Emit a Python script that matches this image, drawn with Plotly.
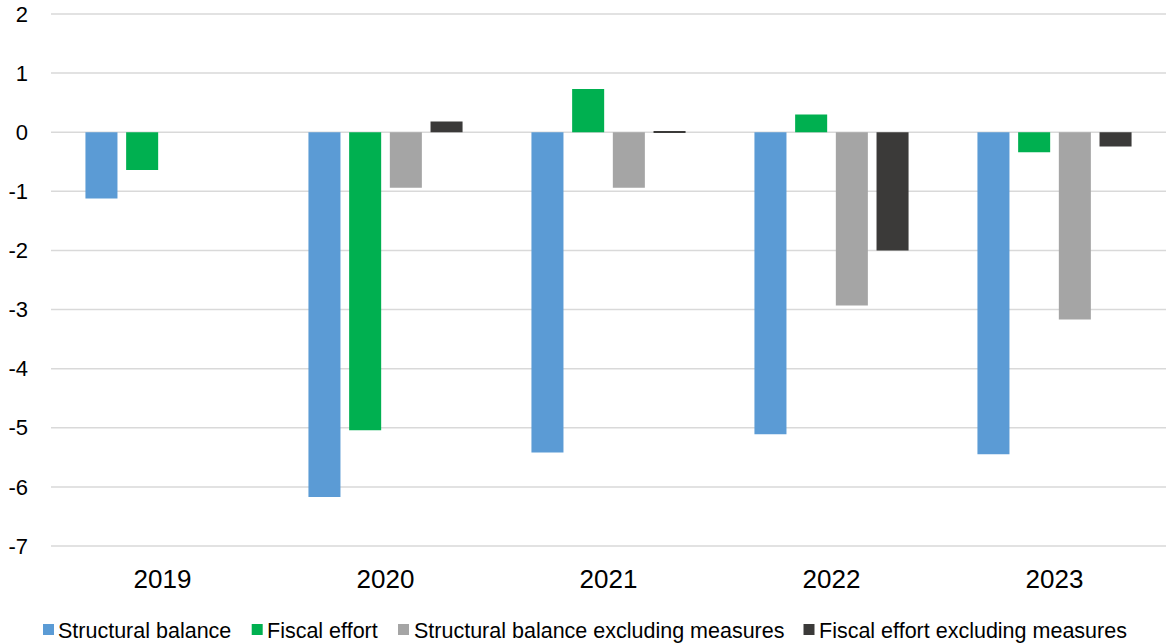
import plotly.graph_objects as go

years = ["2019", "2020", "2021", "2022", "2023"]
structural_balance = [-1.12, -6.17, -5.42, -5.11, -5.45]
fiscal_effort = [-0.64, -5.04, 0.73, 0.30, -0.34]
sb_excl_measures = [None, -0.94, -0.94, -2.93, -3.17]
fe_excl_measures = [None, 0.18, 0.02, -2.00, -0.24]
y_tick_values = [2, 1, 0, -1, -2, -3, -4, -5, -6, -7]
y_tick_labels = ["2", "1", "0", "-1", "-2", "-3", "-4", "-5", "-6", "-7"]

series_names = ["Structural balance", "Fiscal effort",
                "Structural balance excluding measures", "Fiscal effort excluding measures"]
series_values = [structural_balance, fiscal_effort, sb_excl_measures, fe_excl_measures]
series_colors = ["#5B9BD5", "#00B050", "#A5A5A5", "#3B3A39"]

# figure geometry
W, H = 1169, 644
L, R, T, B = 51, 3, 13, 97
PW, PH = W - L - R, H - T - B

# legend entry positions (pixels): square left edge, text left edge
legend_square_x = [43, 251.7, 398, 803.5]
legend_text_x = [57, 266, 413, 818]
legend_y_center = 629.5
legend_square = 11

fig = go.Figure()
for name, vals, col in zip(series_names, series_values, series_colors):
    fig.add_trace(go.Bar(x=years, y=vals, name=name, marker_color=col,
                         marker_line_width=0, showlegend=False))

def px_x(v):
    return (v - L) / PW

def px_y(v):
    return (H - B - v) / PH

shapes = []
annotations = []
# horizontal gridlines at every y tick (drawn as shapes so the edge lines show too)
for tv in y_tick_values:
    shapes.append(dict(type="line", xref="paper", yref="y", x0=0, x1=1, y0=tv, y1=tv,
                       line=dict(color="#D9D9D9", width=1.5), layer="below"))
for name, col, sx, tx in zip(series_names, series_colors, legend_square_x, legend_text_x):
    shapes.append(dict(type="rect", xref="paper", yref="paper",
                       x0=px_x(sx), x1=px_x(sx + legend_square),
                       y0=px_y(legend_y_center + legend_square / 2),
                       y1=px_y(legend_y_center - legend_square / 2),
                       fillcolor=col, line=dict(width=0)))
    annotations.append(dict(text=name, xref="paper", yref="paper",
                            x=px_x(tx), y=px_y(legend_y_center + 1),
                            xanchor="left", yanchor="middle", showarrow=False,
                            font=dict(size=21.5, color="#000000"), borderpad=0))

fig.update_layout(
    width=W, height=H,
    margin=dict(l=L, r=R, t=T, b=B),
    paper_bgcolor="white", plot_bgcolor="white",
    barmode="group", bargap=0.27, bargroupgap=0.213,
    font=dict(family="Liberation Sans, Arial, sans-serif", color="#000000"),
    showlegend=False,
    shapes=shapes, annotations=annotations,
    xaxis=dict(showgrid=False, showline=False, ticks="", tickfont=dict(size=26),
               ticklabelstandoff=14, automargin=False),
    yaxis=dict(range=[-7.017, 2.017], tickmode="array", tickvals=y_tick_values,
               ticktext=y_tick_labels, showgrid=False, zeroline=False,
               showline=False, ticks="", tickfont=dict(size=22), ticklabelstandoff=22,
               automargin=False, ticklabeloverflow="allow"),
)

fig.write_html("out.html", config={"displayModeBar": False},
               post_script="document.body.style.margin='0';document.body.style.padding='0';")
